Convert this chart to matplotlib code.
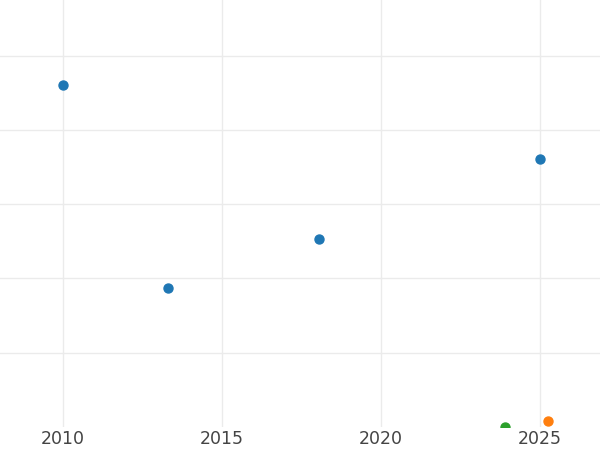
import matplotlib
matplotlib.use('Agg')
import matplotlib.pyplot as plt

# values (y units are arbitrary, grid every 1)
years_a = [2010.0, 2013.3, 2018.05, 2025.0]
vals_a = [4.6, 1.87, 2.53, 3.61]
years_b = [2025.25]
vals_b = [0.08]
years_c = [2023.9]
vals_c = [0.0]
xticks = [2010, 2015, 2020, 2025]


def main():
    fig = plt.figure(figsize=(6, 4.5), dpi=100)
    ax = fig.add_axes([0, 23 / 450, 1, 427 / 450])

    ax.scatter(years_a, vals_a, s=42, color='#1f77b4', zorder=3)
    ax.scatter(years_b, vals_b, s=42, color='#ff7f0e', zorder=3)
    ax.scatter(years_c, vals_c, s=42, color='#2ca02c', zorder=3)

    ax.set_xlim(2008.02, 2026.89)
    ax.set_ylim(0, 5.75)
    ax.set_xticks(xticks)
    ax.set_yticks([1, 2, 3, 4, 5])
    ax.set_yticklabels([])
    ax.tick_params(length=0, labelsize=12.5, labelcolor='#444444', pad=2)
    ax.grid(True, color='#ebebeb', linewidth=1.0)
    ax.set_axisbelow(True)
    for s in ax.spines.values():
        s.set_visible(False)

    fig.savefig('out.png', dpi=100)


if __name__ == "__main__":
    main()
